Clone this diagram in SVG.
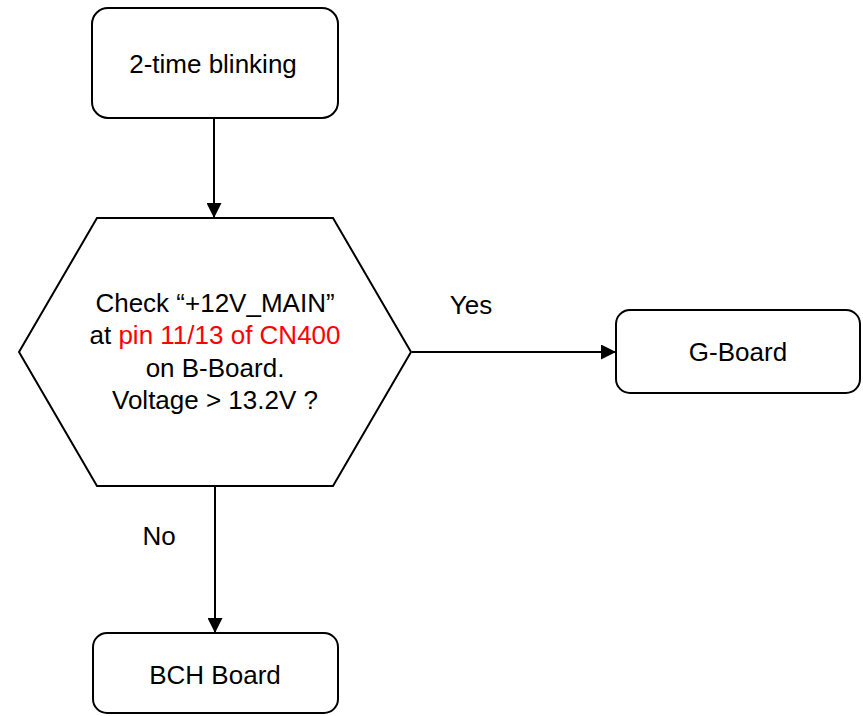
<svg xmlns="http://www.w3.org/2000/svg" width="863" height="716" viewBox="0 0 863 716">
<style>
.box{fill:#fff;stroke:#000;stroke-width:2}
.t{font-family:"Liberation Sans",Arial,sans-serif;font-size:26px;fill:#000;text-anchor:middle}
.red{fill:#ff0000}
.c{stroke:#000;stroke-width:2;fill:none}
</style>
<defs>
<marker id="ah" viewBox="0 0 15 15" refX="15" refY="7.5" markerWidth="15" markerHeight="15" markerUnits="userSpaceOnUse" orient="auto">
<path d="M0,0 L15,7.5 L0,15 Z" fill="#000"/>
</marker>
</defs>
<rect width="863" height="716" fill="#fff"/>
<g id="connectors">
<line class="c" x1="214" y1="118" x2="214" y2="218" marker-end="url(#ah)"/>
<line class="c" x1="412" y1="352" x2="616" y2="352" marker-end="url(#ah)"/>
<line class="c" x1="215" y1="486" x2="215" y2="633" marker-end="url(#ah)"/>
<text class="t" x="471" y="314">Yes</text>
<text class="t" x="159" y="545">No</text>
</g>
<g id="start">
<rect class="box" x="92" y="8" width="246" height="110" rx="16"/>
<text class="t" x="213" y="73">2-time blinking</text>
</g>
<g id="decision">
<polygon class="box" points="19,352 97,218 333,218 411,352 333,486 97,486"/>
<text class="t" x="215" y="312">Check “+12V_MAIN”</text>
<text class="t" x="215" y="344">at <tspan class="red">pin 11/13 of CN400</tspan></text>
<text class="t" x="215" y="377">on B-Board.</text>
<text class="t" x="215" y="409">Voltage &gt; 13.2V ?</text>
</g>
<g id="gboard">
<rect class="box" x="616" y="310" width="244" height="83" rx="14"/>
<text class="t" x="738" y="361">G-Board</text>
</g>
<g id="bch">
<rect class="box" x="93" y="633" width="245" height="80" rx="14"/>
<text class="t" x="215" y="684">BCH Board</text>
</g>
</svg>
